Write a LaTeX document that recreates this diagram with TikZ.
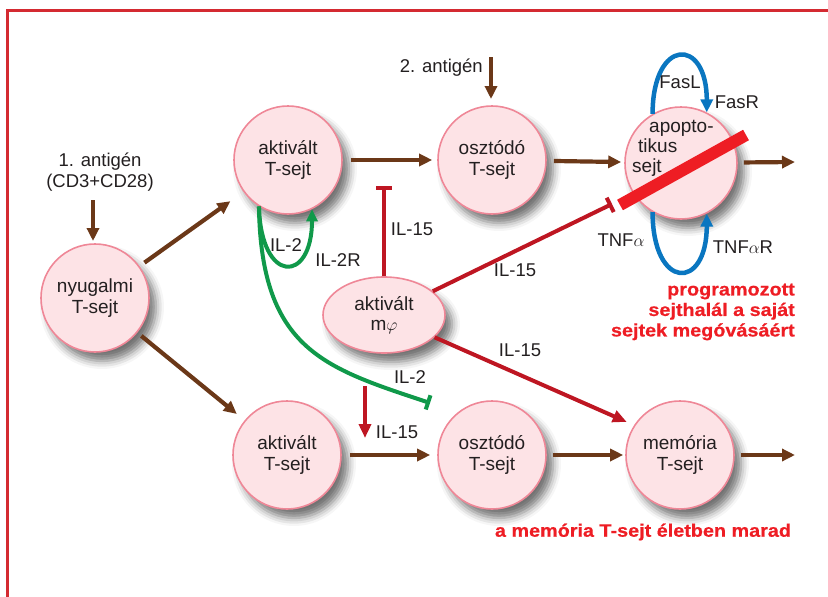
\documentclass[tikz,border=0pt]{standalone}
\usepackage{fontspec}
\setmainfont{Liberation Sans}
\newfontfamily\widebold[FakeStretch=1.1,FakeBold=0.6]{Liberation Sans Bold}
\usetikzlibrary{arrows.meta,shadows.blur,shapes.geometric,calc}

\definecolor{ink}{HTML}{231F20}
\definecolor{cellfill}{HTML}{FDE3E6}
\definecolor{cellrim}{HTML}{EF8797}
\definecolor{brn}{HTML}{6B3818}
\definecolor{dred}{HTML}{BE1622}
\definecolor{grn}{HTML}{10994A}
\definecolor{blu}{HTML}{0A76C0}
\definecolor{hot}{HTML}{EE1D24}
\definecolor{framered}{HTML}{D42A31}

\begin{document}
\begin{tikzpicture}[x=1pt,y=-1pt,
  every node/.style={text=ink},
  cell/.style={circle, draw=cellrim, line width=1.6pt, fill=cellfill,
    minimum size=108pt, inner sep=0pt, align=center,
    font=\fontsize{19}{20.5}\selectfont,
    blur shadow={shadow xshift=7pt, shadow yshift=-9pt,
      shadow blur radius=8pt, shadow opacity=55}},
  macro/.style={cell, ellipse, minimum width=122pt, minimum height=76pt},
  lbl/.style={font=\fontsize{18.5}{20.5}\selectfont, inner sep=0pt, align=center},
  hotlbl/.style={font=\widebold\fontsize{18}{20.5}\selectfont, text=hot, inner sep=0pt},
  brw/.style={draw=brn, line width=4.2pt, -{Triangle[length=13pt,width=12pt]}},
  redarrow/.style={draw=dred, line width=4pt, -{Triangle[length=14pt,width=12pt]}},
  redstop/.style={draw=dred, line width=4pt, -{Bar[width=16pt]}},
  grnarrow/.style={draw=grn, line width=4pt, -{Triangle[length=12pt,width=11pt]}},
  grnstop/.style={draw=grn, line width=4pt, -{Bar[width=15pt]}},
  bluarrow/.style={draw=blu, line width=4.5pt, -{Triangle[length=13pt,width=12pt]}},
  slash/.style={draw=hot, line width=12pt}
]
\useasboundingbox (0,0) rectangle (828,597);

% frame
\draw[framered, line width=3pt] (828,10) -- (7,10) -- (7,597);

% cells
\node[cell] (nyug) at (95,298) {nyugalmi\\T-sejt};
\node[cell] (aktT) at (288,160) {aktivált\\T-sejt};
\node[cell] (oszT) at (492,160) {osztódó\\T-sejt};
\node[cell, minimum size=112pt] (apop) at (681,163) {};
\node[macro] (mphi) at (384,315) {aktivált\\m$\varphi$};
\node[cell] (aktB) at (287,455) {aktivált\\T-sejt};
\node[cell] (oszB) at (492,455) {osztódó\\T-sejt};
\node[cell] (mem) at (680,455) {memória\\T-sejt};

\node[lbl, anchor=west, align=left, font=\fontsize{19}{20}\selectfont]
  (apoptxt) at (632,148) {\hspace*{17pt}apopto-\\\hspace*{6pt}tikus\\sejt};

% free ends
\coordinate (a1s) at (93,200);
\coordinate (a1e) at (93,241);
\coordinate (a2s) at (491,57);
\coordinate (a2e) at (491,99);
\coordinate (apopout) at (795,162);
\coordinate (memout) at (795,455);
\coordinate (il15top) at (384,186);
\coordinate (il15stop) at (612,204);
\coordinate (d15s) at (365,386);
\coordinate (d15e) at (365,438);
\coordinate (il2stop) at (430,403);

% antigen labels
\node[lbl] (ant1) at (100,172) {1. antigén\\(CD3+CD28)};
\node[lbl, anchor=east] (ant2) at (483,68) {2. antigén};

% brown flow arrows
\draw[brw] (a1s) -- (a1e);
\draw[brw] (a2s) -- (a2e);
\draw[brw, shorten <=6pt, shorten >=16pt] (nyug) -- (aktT);
\draw[brw, shorten <=5pt, shorten >=10pt] (nyug) -- (aktB);
\draw[brw, shorten <=8pt, shorten >=5pt] (aktT) -- (oszT);
\draw[brw, shorten <=7pt, shorten >=3pt] (oszT) -- (apop);
\draw[brw, shorten <=6pt] (apop) -- (apopout);
\draw[brw, shorten <=8pt, shorten >=7pt] (aktB) -- (oszB);
\draw[brw, shorten <=6pt, shorten >=2pt] (oszB) -- (mem);
\draw[brw, shorten <=6pt] (mem) -- (memout);

% IL-2 signalling
\draw[grnstop] (aktT.-122) .. controls (261,350) and (325,368) .. (il2stop);
\draw[grnarrow] (aktT.-122) .. controls +(2,78) and +(0,75) .. (aktT.-64);

% IL-15 from the macrophage
\draw[redstop] (mphi.north) -- (il15top);
\draw[redstop] (mphi) -- (il15stop);
\draw[redarrow, shorten >=8pt] (mphi) -- (mem.147);
\draw[redarrow] (d15s) -- (d15e);

% Fas and TNF loops
\draw[bluarrow] (apop.120) .. controls +(0,-76) and +(0,-76) .. (apop.63);
\draw[bluarrow] (apop.-120) .. controls +(0,78) and +(0,78) .. (apop.-63);

% crossing bar over the apoptotic cell
\draw[slash] ($(apop)+(-61,42)$) -- ($(apop)+(65,-28)$);

% labels
\node[lbl] (l1) at (286,245) {IL-2};
\node[lbl] (l2) at (338,260) {IL-2R};
\node[lbl] (l3) at (412,229) {IL-15};
\node[lbl] (l4) at (515,270) {IL-15};
\node[lbl] (l5) at (520,350) {IL-15};
\node[lbl] (l6) at (410,377) {IL-2};
\node[lbl] (l7) at (397,432) {IL-15};
\node[lbl] (l8) at (680,82) {FasL};
\node[lbl] (l9) at (737,102) {FasR};
\node[lbl] (l10) at (621,240) {TNF$\alpha$};
\node[lbl] (l11) at (743,247) {TNF$\alpha$R};

\node[hotlbl, anchor=east, align=right] (prog) at (795,312)
  {programozott\\sejthalál a saját\\sejtek megóvásáért};
\node[hotlbl] (memtxt) at (643,532) {a memória T-sejt életben marad};
\end{tikzpicture}
\end{document}
